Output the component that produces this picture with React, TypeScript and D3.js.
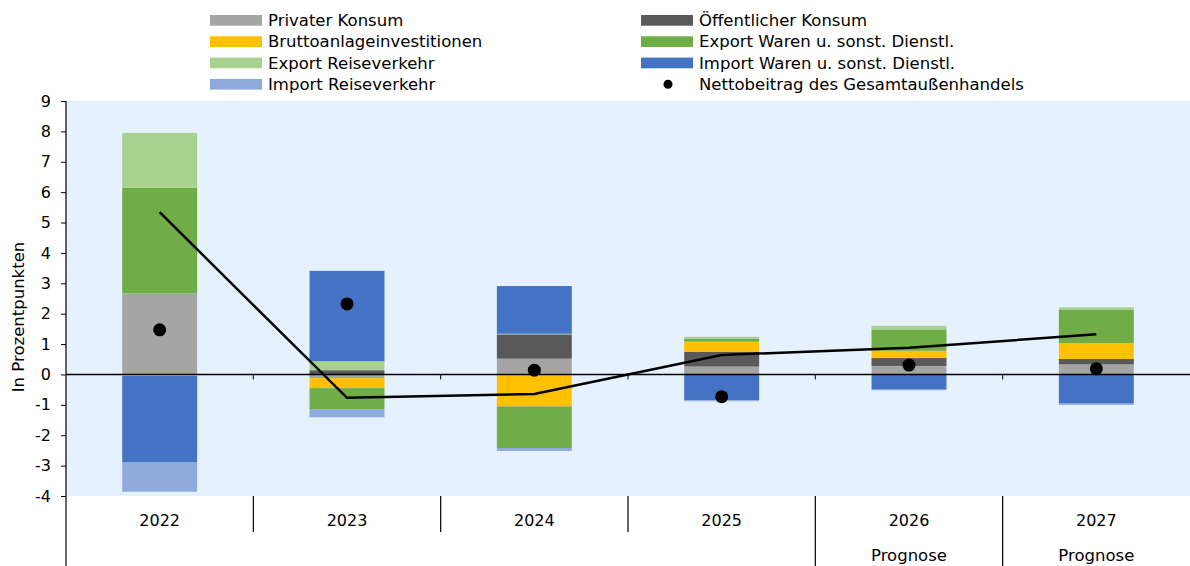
import React, { useEffect, useRef } from "react";
import * as d3 from "d3";

// Werte (Prozentpunkte)
const years = ["2022", "2023", "2024", "2025", "2026", "2027"];
const subLabels = ["", "", "", "", "Prognose", "Prognose"];

const privaterKonsum = [2.67, -0.12, 0.52, 0.26, 0.28, 0.33];
const oeffentlicherKonsum = [0.0, 0.14, 0.8, 0.49, 0.26, 0.18];
const bruttoanlage = [-0.05, -0.33, -1.05, 0.33, 0.24, 0.52];
const exportWaren = [3.47, -0.69, -1.37, 0.09, 0.7, 1.11];
const exportReise = [1.81, 0.3, 0.02, 0.07, 0.12, 0.07];
const importWaren = [-2.85, 2.97, 1.57, -0.85, -0.5, -0.96];
const importReise = [-0.96, -0.27, -0.1, -0.03, -0.02, -0.04];
const nettoBeitrag = [1.47, 2.32, 0.14, -0.73, 0.31, 0.19];
const linie = [5.34, -0.77, -0.64, 0.64, 0.88, 1.32];

const yTicks = [-4, -3, -2, -1, 0, 1, 2, 3, 4, 5, 6, 7, 8, 9];

const seriesNames = [
  "Privater Konsum",
  "Öffentlicher Konsum",
  "Bruttoanlageinvestitionen",
  "Export Waren u. sonst. Dienstl.",
  "Export Reiseverkehr",
  "Import Waren u. sonst. Dienstl.",
  "Import Reiseverkehr",
];
const seriesValues = [
  privaterKonsum,
  oeffentlicherKonsum,
  bruttoanlage,
  exportWaren,
  exportReise,
  importWaren,
  importReise,
];
const colors = [
  "#A5A5A5",
  "#595959",
  "#FFC000",
  "#70AD47",
  "#A9D18E",
  "#4472C4",
  "#8FAADC",
];

const W = 1190;
const H = 566;
const FONT = "'DejaVu Sans', sans-serif";

const Chart = () => {
  const ref = useRef<SVGSVGElement>(null);

  useEffect(() => {
    document.body.style.margin = "0";
    const svg = d3.select(ref.current);
    svg.selectAll("*").remove();

    const left = 66;
    const right = 1190;
    const top = 101;
    const bottom = 496;

    const x = d3.scaleBand().domain(years).range([left, right]).padding(0);
    const y = d3.scaleLinear().domain([-4, 9]).range([bottom, top]);

    // plot background
    svg
      .append("rect")
      .attr("x", left)
      .attr("y", top)
      .attr("width", right - left)
      .attr("height", bottom - top)
      .attr("fill", "#E5F1FC");

    // stacked bars
    const table = years.map((yr, i) => {
      const row: any = { year: yr };
      seriesNames.forEach((n, k) => (row[n] = seriesValues[k][i]));
      return row;
    });
    const stack = d3
      .stack<any>()
      .keys(seriesNames)
      .offset(d3.stackOffsetDiverging);
    const stacked = stack(table);
    const bw = x.bandwidth() * 0.4;

    svg
      .append("g")
      .selectAll("g")
      .data(stacked)
      .join("g")
      .attr("fill", (d, i) => colors[i])
      .selectAll("rect")
      .data((d) => d)
      .join("rect")
      .attr("x", (d: any) => x(d.data.year)! + (x.bandwidth() - bw) / 2)
      .attr("y", (d) => y(Math.max(d[0], d[1])))
      .attr("height", (d) => Math.abs(y(d[0]) - y(d[1])))
      .attr("width", bw);

    // zero line with category ticks
    svg
      .append("line")
      .attr("x1", left)
      .attr("x2", right)
      .attr("y1", y(0))
      .attr("y2", y(0))
      .attr("stroke", "#000")
      .attr("stroke-width", 1.5);
    svg
      .append("g")
      .selectAll("line")
      .data(years.slice(1))
      .join("line")
      .attr("x1", (d) => x(d)!)
      .attr("x2", (d) => x(d)!)
      .attr("y1", y(0))
      .attr("y2", y(0) + 5)
      .attr("stroke", "#000");

    // y axis
    const yAxis = svg
      .append("g")
      .attr("transform", `translate(${left},0)`)
      .call(
        d3
          .axisLeft(y)
          .tickValues(yTicks)
          .tickSize(5)
          .tickPadding(10)
          .tickFormat((d) => String(d))
      );
    yAxis.select(".domain").remove();
    yAxis
      .selectAll("text")
      .attr("font-family", FONT)
      .attr("font-size", 16)
      .attr("fill", "#000");
    yAxis.selectAll("line").attr("stroke", "#000");

    svg
      .append("line")
      .attr("x1", left)
      .attr("x2", left)
      .attr("y1", top)
      .attr("y2", H)
      .attr("stroke", "#000")
      .attr("stroke-width", 1.2);

    // category separators below plot
    svg
      .append("g")
      .selectAll("line")
      .data(years.slice(1))
      .join("line")
      .attr("x1", (d) => x(d)!)
      .attr("x2", (d) => x(d)!)
      .attr("y1", bottom)
      .attr("y2", (d, i) => (subLabels[i + 1] ? H : 532))
      .attr("stroke", "#000")
      .attr("stroke-width", 1.2);

    // category labels
    svg
      .append("g")
      .selectAll("text")
      .data(years)
      .join("text")
      .attr("x", (d) => x(d)! + x.bandwidth() / 2)
      .attr("y", 520)
      .attr("dy", "0.35em")
      .attr("text-anchor", "middle")
      .attr("font-family", FONT)
      .attr("font-size", 16)
      .text((d) => d);
    svg
      .append("g")
      .selectAll("text")
      .data(years.filter((d, i) => subLabels[i]))
      .join("text")
      .attr("x", (d) => x(d)! + x.bandwidth() / 2)
      .attr("y", 555)
      .attr("dy", "0.35em")
      .attr("text-anchor", "middle")
      .attr("font-family", FONT)
      .attr("font-size", 16.5)
      .text((d) => subLabels[years.indexOf(d)]);

    // y label
    svg
      .append("text")
      .attr("transform", `translate(18,317) rotate(-90)`)
      .attr("text-anchor", "middle")
      .attr("dy", "0.35em")
      .attr("font-family", FONT)
      .attr("font-size", 16.5)
      .text("In Prozentpunkten");

    // line
    const line = d3
      .line<number>()
      .x((d, i) => x(years[i])! + x.bandwidth() / 2)
      .y((d) => y(d));
    svg
      .append("path")
      .datum(linie)
      .attr("d", line)
      .attr("fill", "none")
      .attr("stroke", "#000")
      .attr("stroke-width", 2.5);

    // dots
    svg
      .append("g")
      .selectAll("circle")
      .data(nettoBeitrag)
      .join("circle")
      .attr("cx", (d, i) => x(years[i])! + x.bandwidth() / 2)
      .attr("cy", (d) => y(d))
      .attr("r", 6.5)
      .attr("fill", "#000");

    // legend
    const legendItems = [...seriesNames, "Nettobeitrag des Gesamtaußenhandels"];
    const lg = svg
      .append("g")
      .selectAll("g")
      .data(legendItems)
      .join("g")
      .attr("transform", (d, i) => {
        const col = i % 2;
        const row = Math.floor(i / 2);
        return `translate(${col === 0 ? 210 : 641},${20.3 + row * 21.3})`;
      });
    lg.filter((d, i) => i < 7)
      .append("rect")
      .attr("x", 0)
      .attr("y", -5.3)
      .attr("width", 52)
      .attr("height", 10.7)
      .attr("fill", (d, i) => colors[i]);
    lg.filter((d, i) => i === 7)
      .append("circle")
      .attr("cx", 27)
      .attr("cy", 0)
      .attr("r", 4.5)
      .attr("fill", "#000");
    lg.append("text")
      .attr("x", 58)
      .attr("dy", "0.35em")
      .attr("font-family", FONT)
      .attr("font-size", 16.5)
      .attr("fill", "#000")
      .text((d) => d);
  }, []);

  return <svg ref={ref} width={W} height={H} style={{ display: "block" }}></svg>;
};

export default function App() {
  return <Chart />;
}
